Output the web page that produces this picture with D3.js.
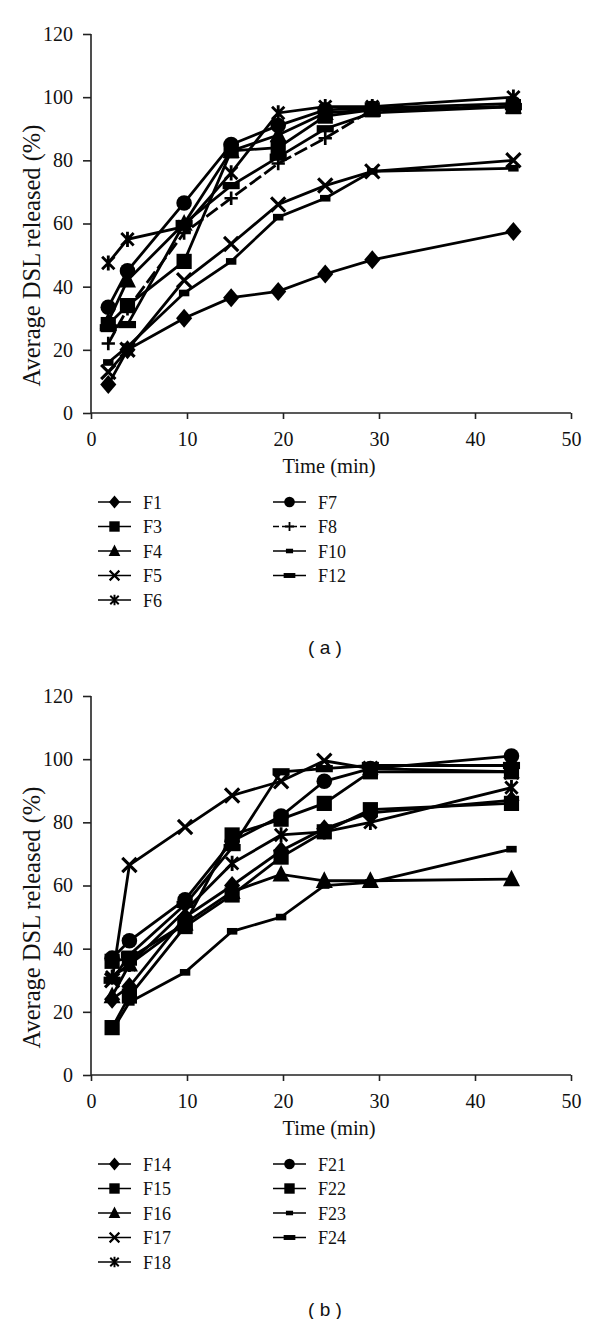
<!DOCTYPE html>
<html><head><meta charset="utf-8">
<script src="https://cdn.jsdelivr.net/npm/d3@7"></script>
<style>body{margin:0;background:#fff}svg{display:block}</style>
</head><body>
<svg id="c" width="600" height="1319"></svg>
<script>
// ---------- DATA ----------
const timesA = [1.8, 3.8, 9.7, 14.6, 19.5, 24.4, 29.3, 44];
const namesA = ["F1","F3","F4","F5","F6","F7","F8","F10","F12"];
const symbolsA = ["diamond","square","triangle","x","asterisk","circle","plus","smallrect","bar"];
const F1  = [9, 20, 30, 36.5, 38.5, 44, 48.5, 57.5];
const F3  = [28, 34, 48, 83, 84, 94, 96, 97];
const F4  = [29, 42, 60, 83, 88, 95, 96, 97];
const F5  = [13, 20, 42, 53.5, 66, 72, 76.5, 80];
const F6  = [47.5, 55, 59, 76, 95, 97, 97, 100];
const F7  = [33.5, 45, 66.5, 85, 91, 96, 96.5, 98];
const F8  = [22, 33, 57, 68, 79, 87, 96, 97];
const F10 = [16, 21, 38, 48, 62, 68, 76.5, 77.5];
const F12 = [27, 28, 60, 72, 81, 90, 95, 97];
const seriesA = [F1, F3, F4, F5, F6, F7, F8, F10, F12];

const timesB = [2.2, 4, 9.8, 14.7, 19.8, 24.3, 29.1, 43.8];
const namesB = ["F14","F15","F16","F17","F18","F21","F22","F23","F24"];
const symbolsB = ["diamond","square","triangle","x","asterisk","circle","square","smallrect","bar"];
const F14 = [24, 28, 50, 60, 71, 78, 83, 87];
const F15 = [36, 37, 48, 76, 81, 86, 96, 96];
const F16 = [25, 35, 48, 58, 63.5, 61.5, 61.5, 62];
const F17 = [30, 66.5, 78.5, 88.5, 93, 99.5, 97, 96];
const F18 = [31, 35, 52, 67, 76, 77, 80, 91];
const F21 = [37, 42.5, 55.5, 74, 82, 93, 97, 101];
const F22 = [15, 25, 47, 57, 69, 77, 84, 86];
const F23 = [14, 23, 32.5, 45.5, 50, 60, 61, 71.5];
const F24 = [30, 38, 54, 72, 96, 97, 98, 98];
const seriesB = [F14, F15, F16, F17, F18, F21, F22, F23, F24];

const xTicks = [0, 10, 20, 30, 40, 50];
const yTicks = [0, 20, 40, 60, 80, 100, 120];

// ---------- DRAW ----------
const svg = d3.select("#c");
const serif = "'Liberation Serif','DejaVu Serif',serif";

function drawMarker(g, type, s, x, y) {
  const m = g.append("g").attr("transform", `translate(${x},${y})`);
  if (type === "diamond") {
    m.append("path").attr("d", `M0,${-s}L${s*0.85},0L0,${s}L${-s*0.85},0Z`).attr("fill", "#000");
  } else if (type === "square") {
    const h = s*0.8;
    m.append("rect").attr("x", -h).attr("y", -h).attr("width", 2*h).attr("height", 2*h).attr("fill", "#000");
  } else if (type === "triangle") {
    m.append("path").attr("d", `M0,${-s}L${s*0.9},${s*0.75}L${-s*0.9},${s*0.75}Z`).attr("fill", "#000");
  } else if (type === "circle") {
    m.append("circle").attr("r", s*0.82).attr("fill", "#000");
  } else if (type === "x") {
    const h = s*0.75;
    m.append("path").attr("d", `M${-h},${-h}L${h},${h}M${h},${-h}L${-h},${h}`)
      .attr("stroke", "#000").attr("stroke-width", s*0.33).attr("fill", "none");
  } else if (type === "asterisk") {
    const h = s*0.65;
    m.append("path").attr("d", `M${-h},${-h}L${h},${h}M${h},${-h}L${-h},${h}M0,${-s*0.8}L0,${s*0.8}`)
      .attr("stroke", "#000").attr("stroke-width", s*0.3).attr("fill", "none");
  } else if (type === "plus") {
    const h = s*0.7;
    m.append("path").attr("d", `M${-h},0L${h},0M0,${-h}L0,${h}`)
      .attr("stroke", "#000").attr("stroke-width", s*0.28).attr("fill", "none");
  } else if (type === "smallrect") {
    m.append("rect").attr("x", -s*0.55).attr("y", -s*0.35).attr("width", s*1.1).attr("height", s*0.7).attr("fill", "#000");
  } else if (type === "bar") {
    m.append("rect").attr("x", -s*0.9).attr("y", -s*0.38).attr("width", s*1.8).attr("height", s*0.76).attr("fill", "#000");
  }
}

function drawChart(top, times, names, symbols, series, label) {
  const left = 91, right = 571, y0 = top + 379, y1 = top;
  const x = d3.scaleLinear().domain([0, 50]).range([left, right]);
  const y = d3.scaleLinear().domain([0, 120]).range([y0, y1]);
  const g = svg.append("g");

  const ax = g.append("g").attr("transform", `translate(0,${y0})`)
    .call(d3.axisBottom(x).tickValues(xTicks).tickSize(6).tickPadding(13));
  const ay = g.append("g").attr("transform", `translate(${left},0)`)
    .call(d3.axisLeft(y).tickValues(yTicks).tickSize(8).tickPadding(10));
  [ax, ay].forEach(a => {
    a.select(".domain").attr("stroke", "#222").attr("stroke-width", 1.6);
    a.selectAll(".tick line").attr("stroke", "#222").attr("stroke-width", 1.6);
    a.selectAll(".tick text").attr("font-family", serif).attr("font-size", 20).attr("fill", "#111");
  });
  ax.select(".domain").attr("d", `M${left},0H${right}`);
  ay.select(".domain").attr("d", `M0,${y0}V${y1}`);

  g.append("text").attr("transform", `translate(40,${(y0 + y1) / 2 + 32}) rotate(-90)`)
    .attr("text-anchor", "middle").attr("font-family", serif).attr("font-size", 24.5).attr("fill", "#111")
    .text("Average DSL released (%)");
  g.append("text").attr("x", x(24.8)).attr("y", y0 + 60).attr("text-anchor", "middle")
    .attr("font-family", serif).attr("font-size", 20.5).attr("fill", "#111").text("Time (min)");

  const line = d3.line().x((d, i) => x(times[i])).y(d => y(d));
  series.forEach((s, k) => {
    g.append("path").datum(s).attr("d", line).attr("fill", "none").attr("stroke", "#000")
      .attr("stroke-width", 2.8).attr("stroke-dasharray", symbols[k] === "plus" ? "14,4" : null);
  });
  series.forEach((s, k) => {
    s.forEach((v, i) => drawMarker(g, symbols[k], 9.5, x(times[i]), y(v)));
  });

  // legend
  const lg = g.append("g");
  const rowH = 24.5;
  names.forEach((n, k) => {
    const col = k < 5 ? 0 : 1;
    const row = k < 5 ? k : k - 5;
    const lx = col === 0 ? 98 : 273;
    const ly = y0 + 89 + row * rowH;
    lg.append("line").attr("x1", lx).attr("x2", lx + 33).attr("y1", ly).attr("y2", ly)
      .attr("stroke", "#000").attr("stroke-width", 1.5)
      .attr("stroke-dasharray", symbols[k] === "plus" ? "6,3" : null);
    drawMarker(lg, symbols[k], 6.5, lx + 16.5, ly);
    lg.append("text").attr("x", lx + 45).attr("y", ly + 6.5).attr("font-family", serif)
      .attr("font-size", 18).attr("fill", "#111").text(n);
  });

  g.append("text").attr("x", 325).attr("y", y0 + 241).attr("text-anchor", "middle")
    .attr("font-family", "'Liberation Sans',Arial,sans-serif").attr("font-size", 19).attr("fill", "#111")
    .text(label);
}

drawChart(34, timesA, namesA, symbolsA, seriesA, "( a )");
drawChart(696, timesB, namesB, symbolsB, seriesB, "( b )");
</script>
</body></html>
